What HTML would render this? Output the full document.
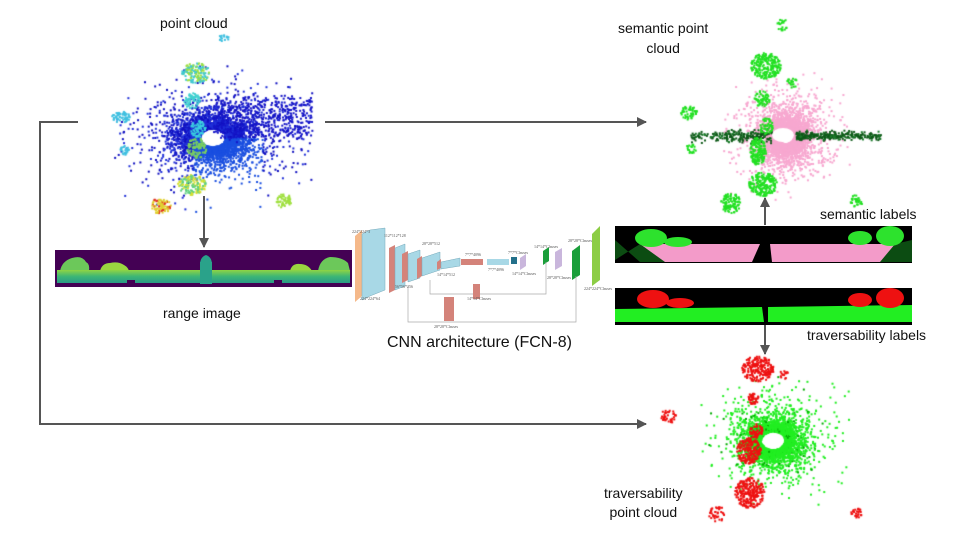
<!DOCTYPE html>
<html><head><meta charset="utf-8"><style>
html,body{margin:0;padding:0;background:#fff;}
#w{position:relative;width:960px;height:540px;overflow:hidden;font-family:"Liberation Sans",sans-serif;color:#111;}
canvas,svg{position:absolute;left:0;top:0;}
.t{position:absolute;font-size:14px;white-space:nowrap;}
</style></head><body><div id="w">
<canvas id="c" width="960" height="540"></canvas>
<svg width="960" height="540" viewBox="0 0 960 540">
<defs>
<marker id="a" markerWidth="10" markerHeight="10" refX="9" refY="5" orient="auto" markerUnits="userSpaceOnUse"><path d="M0,0 L10,5 L0,10 z" fill="#555"/></marker>
<linearGradient id="gr" x1="0" y1="0" x2="0" y2="1"><stop offset="0" stop-color="#8fd444"/><stop offset="0.5" stop-color="#3cb676"/><stop offset="1" stop-color="#2a9a86"/></linearGradient>
</defs>
<g stroke="#555" stroke-width="2" fill="none">
<polyline points="78,122 40,122 40,424 646,424" marker-end="url(#a)"/>
<line x1="325" y1="122" x2="646" y2="122" marker-end="url(#a)"/>
<line x1="204" y1="196" x2="204" y2="247" marker-end="url(#a)"/>
<line x1="765" y1="225" x2="765" y2="198" marker-end="url(#a)"/>
<line x1="765" y1="325" x2="765" y2="354" marker-end="url(#a)"/>
</g>
<rect x="55" y="250" width="297" height="37" fill="#440154"/>
<path d="M60,271 q2,-10 12,-13 q10,-3 14,4 q4,2 3,9z" fill="#6cc85a"/>
<path d="M100,271 q2,-8 10,-8 q8,-2 14,2 q4,2 5,6z" fill="#9ad640"/>
<path d="M290,271 q2,-8 10,-7 q8,0 12,7z" fill="#9ad640"/>
<path d="M318,271 q2,-12 12,-14 q12,0 18,6 l2,8z" fill="#6cc85a"/>
<path d="M200,283 l0,-18 q0,-8 6,-10 q6,2 6,10 l0,18z" fill="#2aa28a"/>
<rect x="57" y="270" width="293" height="13" fill="url(#gr)"/>
<rect x="200" y="262" width="12" height="22" fill="#2aa28a"/>
<rect x="127" y="280" width="8" height="4" fill="#440154"/><rect x="274" y="280" width="8" height="4" fill="#440154"/>
<rect x="615" y="226" width="297" height="37" fill="#000"/>
<path d="M615,260 L615,240 L640,262 L750,262 L758,244 L640,244z" fill="#0c4c12"/>
<path d="M640,244 L760,244 L752,262 L665,262z" fill="#f39bc9"/>
<path d="M770,244 L905,244 L888,262 L772,262z" fill="#f39bc9"/>
<path d="M895,244 L912,240 L912,262 L880,262z" fill="#0c4c12"/>
<ellipse cx="651" cy="238" rx="16" ry="9" fill="#2de22d"/><ellipse cx="678" cy="242" rx="14" ry="5" fill="#2de22d"/>
<ellipse cx="860" cy="238" rx="12" ry="7" fill="#2de22d"/><ellipse cx="890" cy="236" rx="14" ry="10" fill="#2de22d"/>
<rect x="615" y="288" width="297" height="37" fill="#000"/>
<path d="M615,309 L762,307 L764,322 L615,322z" fill="#22ee22"/>
<path d="M768,307 L912,305 L912,322 L768,322z" fill="#22ee22"/>
<ellipse cx="653" cy="299" rx="16" ry="9" fill="#ee1111"/><ellipse cx="680" cy="303" rx="14" ry="5" fill="#ee1111"/>
<ellipse cx="860" cy="300" rx="12" ry="7" fill="#ee1111"/><ellipse cx="890" cy="298" rx="14" ry="10" fill="#ee1111"/>
<g font-family="Liberation Serif" font-size="4" fill="#555">
<polygon points="355,236 362,230 362,296 355,302" fill="#f5b98a"/>
<polygon points="362,234 370,230 385,228 385,290 370,296 362,300" fill="#a8d8e6" stroke="#7ab" stroke-width="0.5"/>
<polygon points="389,248 395,245 395,290 389,293" fill="#d4837a"/>
<polygon points="395,248 405,244 405,286 395,290" fill="#a8d8e6" stroke="#7ab" stroke-width="0.5"/>
<polygon points="402,254 408,251 408,280 402,283" fill="#d4837a"/>
<polygon points="408,254 420,250 420,278 408,282" fill="#a8d8e6" stroke="#7ab" stroke-width="0.5"/>
<polygon points="417,259 422,256 422,276 417,279" fill="#d4837a"/>
<polygon points="422,258 440,252 440,270 422,276" fill="#a8d8e6" stroke="#7ab" stroke-width="0.5"/>
<polygon points="437,262 441,259 441,268 437,270" fill="#d4837a"/>
<polygon points="441,262 460,258 460,266 441,269" fill="#a8d8e6" stroke="#7ab" stroke-width="0.5"/>
<rect x="461" y="259" width="22" height="6" fill="#d4837a"/>
<rect x="487" y="259" width="22" height="6" fill="#a8d8e6"/>
<rect x="511" y="257" width="6" height="7" fill="#23708a"/>
<polygon points="520,258 526,254 526,266 520,270" fill="#c9b6dc"/>
<polygon points="543,251 549,247 549,261 543,265" fill="#1a9e3a"/>
<polygon points="555,252 562,248 562,266 555,270" fill="#c9b6dc"/>
<polygon points="572,251 580,245 580,275 572,280" fill="#1a9e3a"/>
<polygon points="592,234 600,226 600,280 592,286" fill="#8ccd45"/>
<polyline points="430,280 430,294 546,294 546,262" stroke="#aaa" stroke-width="0.7" fill="none"/>
<polyline points="408,286 408,322 576,322 576,276" stroke="#aaa" stroke-width="0.7" fill="none"/>
<rect x="473" y="284" width="7" height="15" fill="#d4837a"/>
<rect x="444" y="297" width="10" height="24" fill="#d4837a"/>
<text x="352" y="233">224*224*3</text><text x="360" y="300">224*224*64</text>
<text x="384" y="237">112*112*128</text><text x="395" y="288">56*56*256</text>
<text x="422" y="245">28*28*512</text><text x="437" y="276">14*14*512</text>
<text x="465" y="256">7*7*4096</text><text x="488" y="271">7*7*4096</text>
<text x="508" y="254">7*7*Classes</text><text x="512" y="275">14*14*Classes</text>
<text x="534" y="248">14*14*Classes</text><text x="568" y="242">28*28*Classes</text>
<text x="547" y="279">28*28*Classes</text><text x="584" y="290">224*224*Classes</text>
<text x="467" y="300">14*14*Classes</text><text x="434" y="328">28*28*Classes</text>
</g>
</svg>
<div class="t" style="left:160px;top:15px">point cloud</div>
<div class="t" style="left:163px;top:305px">range image</div>
<div class="t" style="left:387px;top:334px;font-size:16px">CNN architecture (FCN-8)</div>
<div class="t" style="left:618px;top:18px;text-align:center;line-height:20px">semantic point<br>cloud</div>
<div class="t" style="left:820px;top:206px">semantic labels</div>
<div class="t" style="left:807px;top:327px">traversability labels</div>
<div class="t" style="left:604px;top:484px;text-align:center;line-height:19px">traversability<br>point cloud</div>
</div>
<script>
var c=document.getElementById('c').getContext('2d');
var s=12345;function r(){s=(s*16807)%2147483647;return s/2147483647;}
function g(){return (r()+r()+r()-1.5)/1.5;}
function dot(x,y,col,sz){c.fillStyle=col;c.fillRect(x,y,sz||2,sz||2);}
function cloud(cx,cy,n,sx,sy,f,hx,hy){for(var i=0;i<n;i++){var k=r();var m=k<0.55?0.55:(k<0.85?1:1.8);var dx=g()*sx*m,dy=g()*sy*m;var x=cx+dx,y=cy+dy;if(Math.hypot(dx/(hx||1.4),dy)<(hy||9))continue;dot(x,y,f(dx,dy,i),2);}}
function blob(cx,cy,rx,ry,n,col){for(var i=0;i<n;i++){var a=r()*6.28,d=Math.sqrt(r());dot(cx+Math.cos(a)*rx*d,cy+Math.sin(a)*ry*d,typeof col=='function'?col():col,2);}}
cloud(212,137,5200,68,44,function(dx,dy){return (dy>0&&dx>-20&&dx<50)?'#1a4fe0':(r()<0.5?'#1010c0':'#2030d8');});
for(var i=0;i<500;i++){var x=212+r()*100,y=137-r()*40+g()*6;dot(x,y,'#1515c8',2);}
blob(197,128,8,8,60,'#3ad0e0');blob(196,147,10,10,80,'#7ad060');blob(191,100,8,8,60,'#40d0d0');
blob(195,72,14,10,140,function(){return r()<0.5?'#9de040':'#40c8d0'});
blob(191,184,14,10,140,function(){return r()<0.5?'#d8e030':'#60d080'});
blob(160,205,10,8,90,function(){return r()<0.3?'#e03020':'#e0d030'});
blob(120,116,9,6,60,'#40c0e0');blob(124,150,5,5,25,'#40c0e0');blob(283,200,8,7,50,'#a0e040');blob(223,37,5,4,15,'#40c0e0');
cloud(785,135,5000,42,42,function(){return '#f7a8d0';},1,8);
for(var i=0;i<700;i++){var x=690+r()*190,y=135+g()*(x<783?9:6);if(Math.abs(x-783)<12&&Math.abs(y-135)<7)continue;if(r()<0.3&&Math.abs(x-783)>50)continue;dot(x,y,r()<0.8?'#0e5a18':'#1a7a2a',2);}
blob(765,65,15,13,220,'#22e022');blob(761,98,8,8,60,'#22e022');blob(765,125,7,8,50,'#22e022');blob(757,150,8,14,150,'#22e022');blob(762,183,14,12,200,'#22e022');
blob(730,202,10,10,110,'#22e022');blob(688,112,8,7,50,'#22e022');blob(690,148,5,5,20,'#22e022');blob(855,200,7,6,30,'#22e022');blob(782,24,6,6,20,'#22e022');blob(791,82,5,6,20,'#22e022');
c.fillStyle='#fff';c.beginPath();c.ellipse(783,135,11,7,0,0,6.28);c.fill();
cloud(772,440,4800,48,40,function(){return r()<0.06?'#0a0':'#22ee22';},1.3,9);
blob(757,368,16,13,220,'#ee1111');blob(749,492,15,15,250,'#ee1111');blob(748,450,12,13,200,'#ee1111');blob(755,430,7,7,60,'#ee1111');blob(752,398,6,6,40,'#ee1111');
blob(668,415,8,7,40,'#ee1111');blob(716,513,8,8,40,'#ee1111');blob(855,512,6,5,25,'#ee1111');blob(783,373,4,5,15,'#ee1111');
c.fillStyle='#fff';c.beginPath();c.ellipse(774,440,10,7,0,0,6.28);c.fill();
</script>
</body></html>
